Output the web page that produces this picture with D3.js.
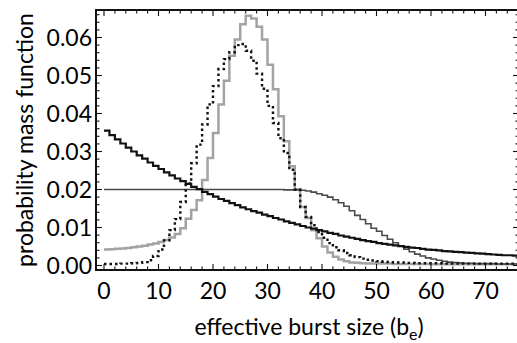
<!DOCTYPE html>
<html lang="en">
<head>
<meta charset="utf-8">
<title>probability mass function</title>
<script src="https://cdn.jsdelivr.net/npm/d3@7"></script>
<style>
  body { margin: 0; background: #fff; }
  svg text { font-family: Lato, "Open Sans", sans-serif; fill: #000; }
</style>
</head>
<body>
<script>
  // effective burst size k = 0..75
  const burstSizes = d3.range(0, 76);

  // black staircase (decaying)
  const geometric = [
    0.0355, 0.0343, 0.0332, 0.0321, 0.0310, 0.0300, 0.0290, 0.0281, 0.0271, 0.0262,
    0.0254, 0.0245, 0.0237, 0.0229, 0.0222, 0.0215, 0.0207, 0.0201, 0.0194, 0.0188,
    0.0181, 0.0175, 0.0170, 0.0164, 0.0159, 0.0153, 0.0148, 0.0143, 0.0139, 0.0134,
    0.0130, 0.0125, 0.0121, 0.0116, 0.0112, 0.0108, 0.0104, 0.0100, 0.0097, 0.0093,
    0.0090, 0.0086, 0.0083, 0.0079, 0.0076, 0.0073, 0.0070, 0.0067, 0.0064, 0.0062,
    0.0059, 0.0057, 0.0055, 0.0053, 0.0051, 0.0049, 0.0047, 0.0046, 0.0044, 0.0042,
    0.0041, 0.0040, 0.0038, 0.0037, 0.0036, 0.0035, 0.0034, 0.0033, 0.0032, 0.0031,
    0.0030, 0.0029, 0.0028, 0.0027, 0.0027, 0.0026
  ];

  // thin dark grey: flat at 0.02, then falling off
  const plateau = [
    0.0200, 0.0200, 0.0200, 0.0200, 0.0200, 0.0200, 0.0200, 0.0200, 0.0200, 0.0200,
    0.0200, 0.0200, 0.0200, 0.0200, 0.0200, 0.0200, 0.0200, 0.0200, 0.0200, 0.0200,
    0.0200, 0.0200, 0.0200, 0.0200, 0.0200, 0.0200, 0.0200, 0.0200, 0.0200, 0.0200,
    0.0200, 0.0200, 0.0200, 0.0199, 0.0199, 0.0199, 0.0198, 0.0196, 0.0193, 0.0189,
    0.0185, 0.0180, 0.0173, 0.0165, 0.0156, 0.0144, 0.0132, 0.0121, 0.0110, 0.0098,
    0.0090, 0.0079, 0.0069, 0.0060, 0.0051, 0.0043, 0.0036, 0.0030, 0.0025, 0.0020,
    0.0017, 0.0014, 0.0011, 0.0009, 0.0008, 0.0007, 0.0006, 0.0006, 0.0005, 0.0005,
    0.0005, 0.0005, 0.0004, 0.0004, 0.0004, 0.0004
  ];

  // light grey peak
  const greyPeak = [
    0.0042, 0.0043, 0.0044, 0.0045, 0.0046, 0.0048, 0.0050, 0.0052, 0.0055, 0.0058,
    0.0062, 0.0067, 0.0074, 0.0083, 0.0098, 0.0123, 0.0146, 0.0172, 0.0225, 0.0283,
    0.0349, 0.0424, 0.0486, 0.0552, 0.0595, 0.0635, 0.0657, 0.0650, 0.0628, 0.0595,
    0.0528, 0.0464, 0.0393, 0.0327, 0.0261, 0.0200, 0.0154, 0.0125, 0.0093, 0.0072,
    0.0050, 0.0034, 0.0023, 0.0016, 0.0011, 0.0008, 0.0007, 0.0006, 0.0005, 0.0005,
    0.0005, 0.0005, 0.0005, 0.0004, 0.0004, 0.0004, 0.0004, 0.0004, 0.0004, 0.0004,
    0.0003, 0.0003, 0.0003, 0.0003, 0.0003, 0.0003, 0.0003, 0.0003, 0.0003, 0.0003,
    0.0003, 0.0003, 0.0003, 0.0003, 0.0003, 0.0003
  ];

  // black dotted peak
  const dottedPeak = [
    0.0004, 0.0004, 0.0004, 0.0005, 0.0005, 0.0006, 0.0007, 0.0009, 0.0014, 0.0025,
    0.0042, 0.0066, 0.0093, 0.0122, 0.0167, 0.0216, 0.0269, 0.0318, 0.0371, 0.0424,
    0.0472, 0.0517, 0.0543, 0.0561, 0.0580, 0.0583, 0.0565, 0.0539, 0.0505, 0.0465,
    0.0420, 0.0375, 0.0335, 0.0296, 0.0252, 0.0200, 0.0154, 0.0128, 0.0106, 0.0088,
    0.0073, 0.0059, 0.0048, 0.0040, 0.0033, 0.0027, 0.0022, 0.0018, 0.0015, 0.0013,
    0.0011, 0.0010, 0.0009, 0.0008, 0.0008, 0.0007, 0.0007, 0.0006, 0.0006, 0.0006,
    0.0006, 0.0006, 0.0005, 0.0005, 0.0005, 0.0005, 0.0005, 0.0005, 0.0005, 0.0005,
    0.0005, 0.0005, 0.0005, 0.0005, 0.0005, 0.0005
  ];

  const xTicks = [0, 10, 20, 30, 40, 50, 60, 70];
  const yTicks = [0, 0.01, 0.02, 0.03, 0.04, 0.05, 0.06];

  const w = 517, h = 343;
  const plotLeft = 96, plotTop = 10, plotRight = 519, plotBottom = 270;

  const x = d3.scaleLinear().domain([0, 70]).range([104, 485.5]);
  const y = d3.scaleLinear().domain([0, 0.02]).range([265.5, 189.5]);

  const svg = d3.select("body").append("svg")
    .attr("width", w)
    .attr("height", h);

  svg.append("clipPath").attr("id", "plot")
    .append("rect")
    .attr("x", plotLeft).attr("y", plotTop)
    .attr("width", plotRight - plotLeft).attr("height", plotBottom - plotTop);

  // step curves, each value held from k to k+1
  function steps(values) {
    const pts = burstSizes.map((k, i) => [k, values[i]]);
    pts.push([burstSizes.length, values[values.length - 1]]);
    return pts;
  }
  const line = d3.line()
    .x(d => x(d[0]))
    .y(d => y(d[1]))
    .curve(d3.curveStepAfter);

  const series = [
    { values: greyPeak, stroke: "#a3a3a3", width: 2.5, dash: null },
    { values: plateau, stroke: "#4a4a4a", width: 1.6, dash: null },
    { values: dottedPeak, stroke: "#111", width: 2.4, dash: "2.5,3" },
    { values: geometric, stroke: "#111", width: 2.2, dash: null }
  ];

  const g = svg.append("g").attr("clip-path", "url(#plot)");
  g.selectAll("path")
    .data(series)
    .enter()
    .append("path")
    .attr("d", d => line(steps(d.values)))
    .attr("fill", "none")
    .attr("stroke", d => d.stroke)
    .attr("stroke-width", d => d.width)
    .attr("stroke-dasharray", d => d.dash)
    .attr("stroke-linejoin", "miter");

  // frame ticks, all pointing inward
  const xMinor = d3.range(0, 77, 2).filter(v => v % 10 !== 0);
  const yMinor = d3.range(0, 0.068, 0.002).filter(v => Math.abs(v * 100 - Math.round(v * 100)) > 1e-6);
  const ticks = svg.append("g").attr("stroke", "#111").attr("stroke-width", 1.1);

  function xTickMarks(vals, len) {
    vals.forEach(v => {
      ticks.append("line").attr("x1", x(v)).attr("x2", x(v)).attr("y1", plotBottom).attr("y2", plotBottom - len);
      ticks.append("line").attr("x1", x(v)).attr("x2", x(v)).attr("y1", plotTop).attr("y2", plotTop + len);
    });
  }
  function yTickMarks(vals, len) {
    vals.forEach(v => {
      ticks.append("line").attr("x1", plotLeft).attr("x2", plotLeft + len).attr("y1", y(v)).attr("y2", y(v));
      ticks.append("line").attr("x1", plotRight).attr("x2", plotRight - len).attr("y1", y(v)).attr("y2", y(v));
    });
  }
  xTickMarks(xTicks, 6);
  xTickMarks(xMinor, 3.5);
  yTickMarks(yTicks, 6);
  yTickMarks(yMinor, 3.5);

  svg.append("rect")
    .attr("x", plotLeft).attr("y", plotTop)
    .attr("width", plotRight - plotLeft).attr("height", plotBottom - plotTop)
    .attr("fill", "none")
    .attr("stroke", "#111")
    .attr("stroke-width", 2);

  // tick labels
  svg.selectAll("text.ylab")
    .data(yTicks)
    .enter()
    .append("text")
    .attr("class", "ylab")
    .attr("x", 92)
    .attr("y", d => y(d))
    .attr("dy", "0.36em")
    .attr("text-anchor", "end")
    .style("font-size", "23px")
    .text(d3.format(".2f"));

  svg.selectAll("text.xlab")
    .data(xTicks)
    .enter()
    .append("text")
    .attr("class", "xlab")
    .attr("x", d => x(d))
    .attr("y", 299)
    .attr("text-anchor", "middle")
    .style("font-size", "23px")
    .text(d => d);

  // axis titles
  const xTitle = svg.append("text")
    .attr("x", 309)
    .attr("y", 335)
    .attr("text-anchor", "middle")
    .style("font-size", "23px")
    .text("effective burst size (b");
  xTitle.append("tspan")
    .attr("dy", 5)
    .style("font-size", "16px")
    .text("e");
  xTitle.append("tspan")
    .attr("dy", -5)
    .text(")");

  svg.append("text")
    .attr("transform", "translate(33,140) rotate(-90)")
    .attr("text-anchor", "middle")
    .style("font-size", "23px")
    .text("probability mass function");
</script>
</body>
</html>
